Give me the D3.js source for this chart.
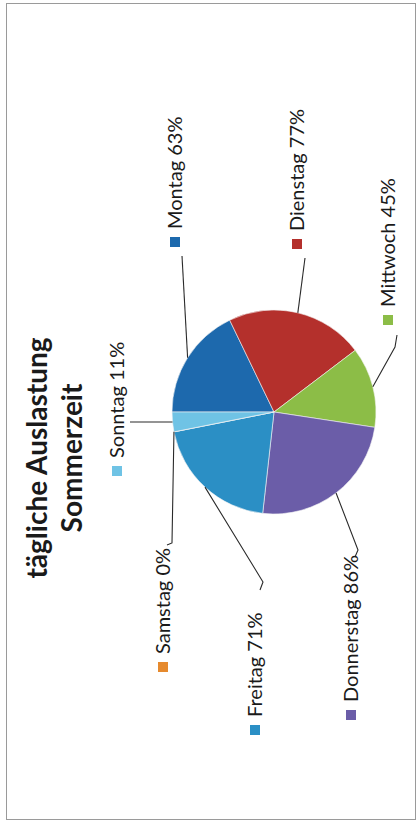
<!DOCTYPE html>
<html>
<head>
<meta charset="utf-8">
<script src="https://cdnjs.cloudflare.com/ajax/libs/d3/7.8.5/d3.min.js"></script>
<style>
  body { margin: 0; background: #fff; }
  text { font-family: Lato, "Open Sans", sans-serif; fill: #1a1a1a; }
</style>
</head>
<body>
<div id="chart"></div>
<script>
// Data
const days = ["Montag", "Dienstag", "Mittwoch", "Donnerstag", "Freitag", "Samstag", "Sonntag"];
const load = [63, 77, 45, 86, 71, 0, 11];
const titleLines = ["tägliche Auslastung", "Sommerzeit"];

// colours of the slices (same order as days)
const dayColors = ["#1d69ad", "#b4302c", "#8cbd47", "#6b5da8", "#2b8fc5", "#e68a2e", "#6fc3e5"];

// Page is portrait, the chart is printed sideways (rotated -90deg)
let dimentions = {
    width: 419,
    height: 826
}

// label layout in the rotated frame (u along reading direction, v across)
// sq = centre of the legend square, end = where the leader line stops, elbow = bend
const labelLayout = [
    { sq: [584, 175], elbow: null, end: [570, 182] },
    { sq: [582, 297], elbow: null, end: [568, 305] },
    { sq: [506, 388], elbow: [479, 395], end: [491, 397] },
    { sq: [111, 351], elbow: [276, 358], end: [269, 355] },
    { sq: [96, 255], elbow: [244, 263], end: [236, 260] },
    { sq: [159, 163], elbow: [283, 172], end: [281, 167] },
    { sq: [355, 117], elbow: null, end: [404, 130] }
];

const svg = d3.select('#chart')
    .append('svg')
    .attr('width', dimentions.width)
    .attr('height', dimentions.height)

// frame of the scanned chart
svg.append('rect')
    .attr('x', 6.5)
    .attr('y', 3.5)
    .attr('width', 409)
    .attr('height', 816)
    .attr('fill', 'none')
    .attr('stroke', '#9a9a9a')
    .attr('stroke-width', 1)

// everything else lives in a rotated group
const container = svg.append('g')
    .attr('transform', `translate(0, ${dimentions.height}) rotate(-90)`)

const pieData = days.map(function(day, i) {
    return { day: day, value: load[i], color: dayColors[i], layout: labelLayout[i] };
});

const center = { u: 414, v: 274 };
const radius = 102;

const pie = d3.pie()
    .sort(null)
    .value(function(d) { return d.value; });

const arcs = pie(pieData);

const arc = d3.arc()
    .innerRadius(0)
    .outerRadius(radius);

// arc with no thickness, its centroid is the point on the rim
const rimArc = d3.arc()
    .innerRadius(radius)
    .outerRadius(radius);

const pieGroup = container.append('g')
    .attr('transform', `translate(${center.u}, ${center.v})`)

pieGroup.selectAll('path')
    .data(arcs)
    .enter()
    .append('path')
    .attr('d', arc)
    .attr('fill', function(d) { return d.data.color; })
    .attr('stroke', '#f4f4f4')
    .attr('stroke-width', 0.6)

// leader lines
container.selectAll('.leader')
    .data(arcs)
    .enter()
    .append('polyline')
    .attr('class', 'leader')
    .attr('fill', 'none')
    .attr('stroke', '#2a2a2a')
    .attr('stroke-width', 1.1)
    .attr('points', function(d) {
        const c = rimArc.centroid(d);
        const pts = [[center.u + c[0], center.v + c[1]]];
        if (d.data.layout.elbow) pts.push(d.data.layout.elbow);
        pts.push(d.data.layout.end);
        return pts.map(function(p) { return p.join(','); }).join(' ');
    })

// labels: square + text
const labels = container.selectAll('.label')
    .data(arcs)
    .enter()
    .append('g')
    .attr('class', 'label')

labels.append('rect')
    .attr('x', function(d) { return d.data.layout.sq[0] - 5; })
    .attr('y', function(d) { return d.data.layout.sq[1] - 5; })
    .attr('width', 10)
    .attr('height', 10)
    .attr('fill', function(d) { return d.data.color; })

labels.append('text')
    .attr('x', function(d) { return d.data.layout.sq[0] + 13; })
    .attr('y', function(d) { return d.data.layout.sq[1] + 7; })
    .style('font-size', '20px')
    .text(function(d) { return d.data.day + ' ' + d.data.value + '%'; })

// title
container.selectAll('.title')
    .data(titleLines)
    .enter()
    .append('text')
    .attr('class', 'title')
    .attr('x', 368)
    .attr('y', function(d, i) { return 47 + i * 35; })
    .attr('text-anchor', 'middle')
    .style('font-size', '28px')
    .style('font-weight', 'bold')
    .text(function(d) { return d; })
</script>
</body>
</html>
